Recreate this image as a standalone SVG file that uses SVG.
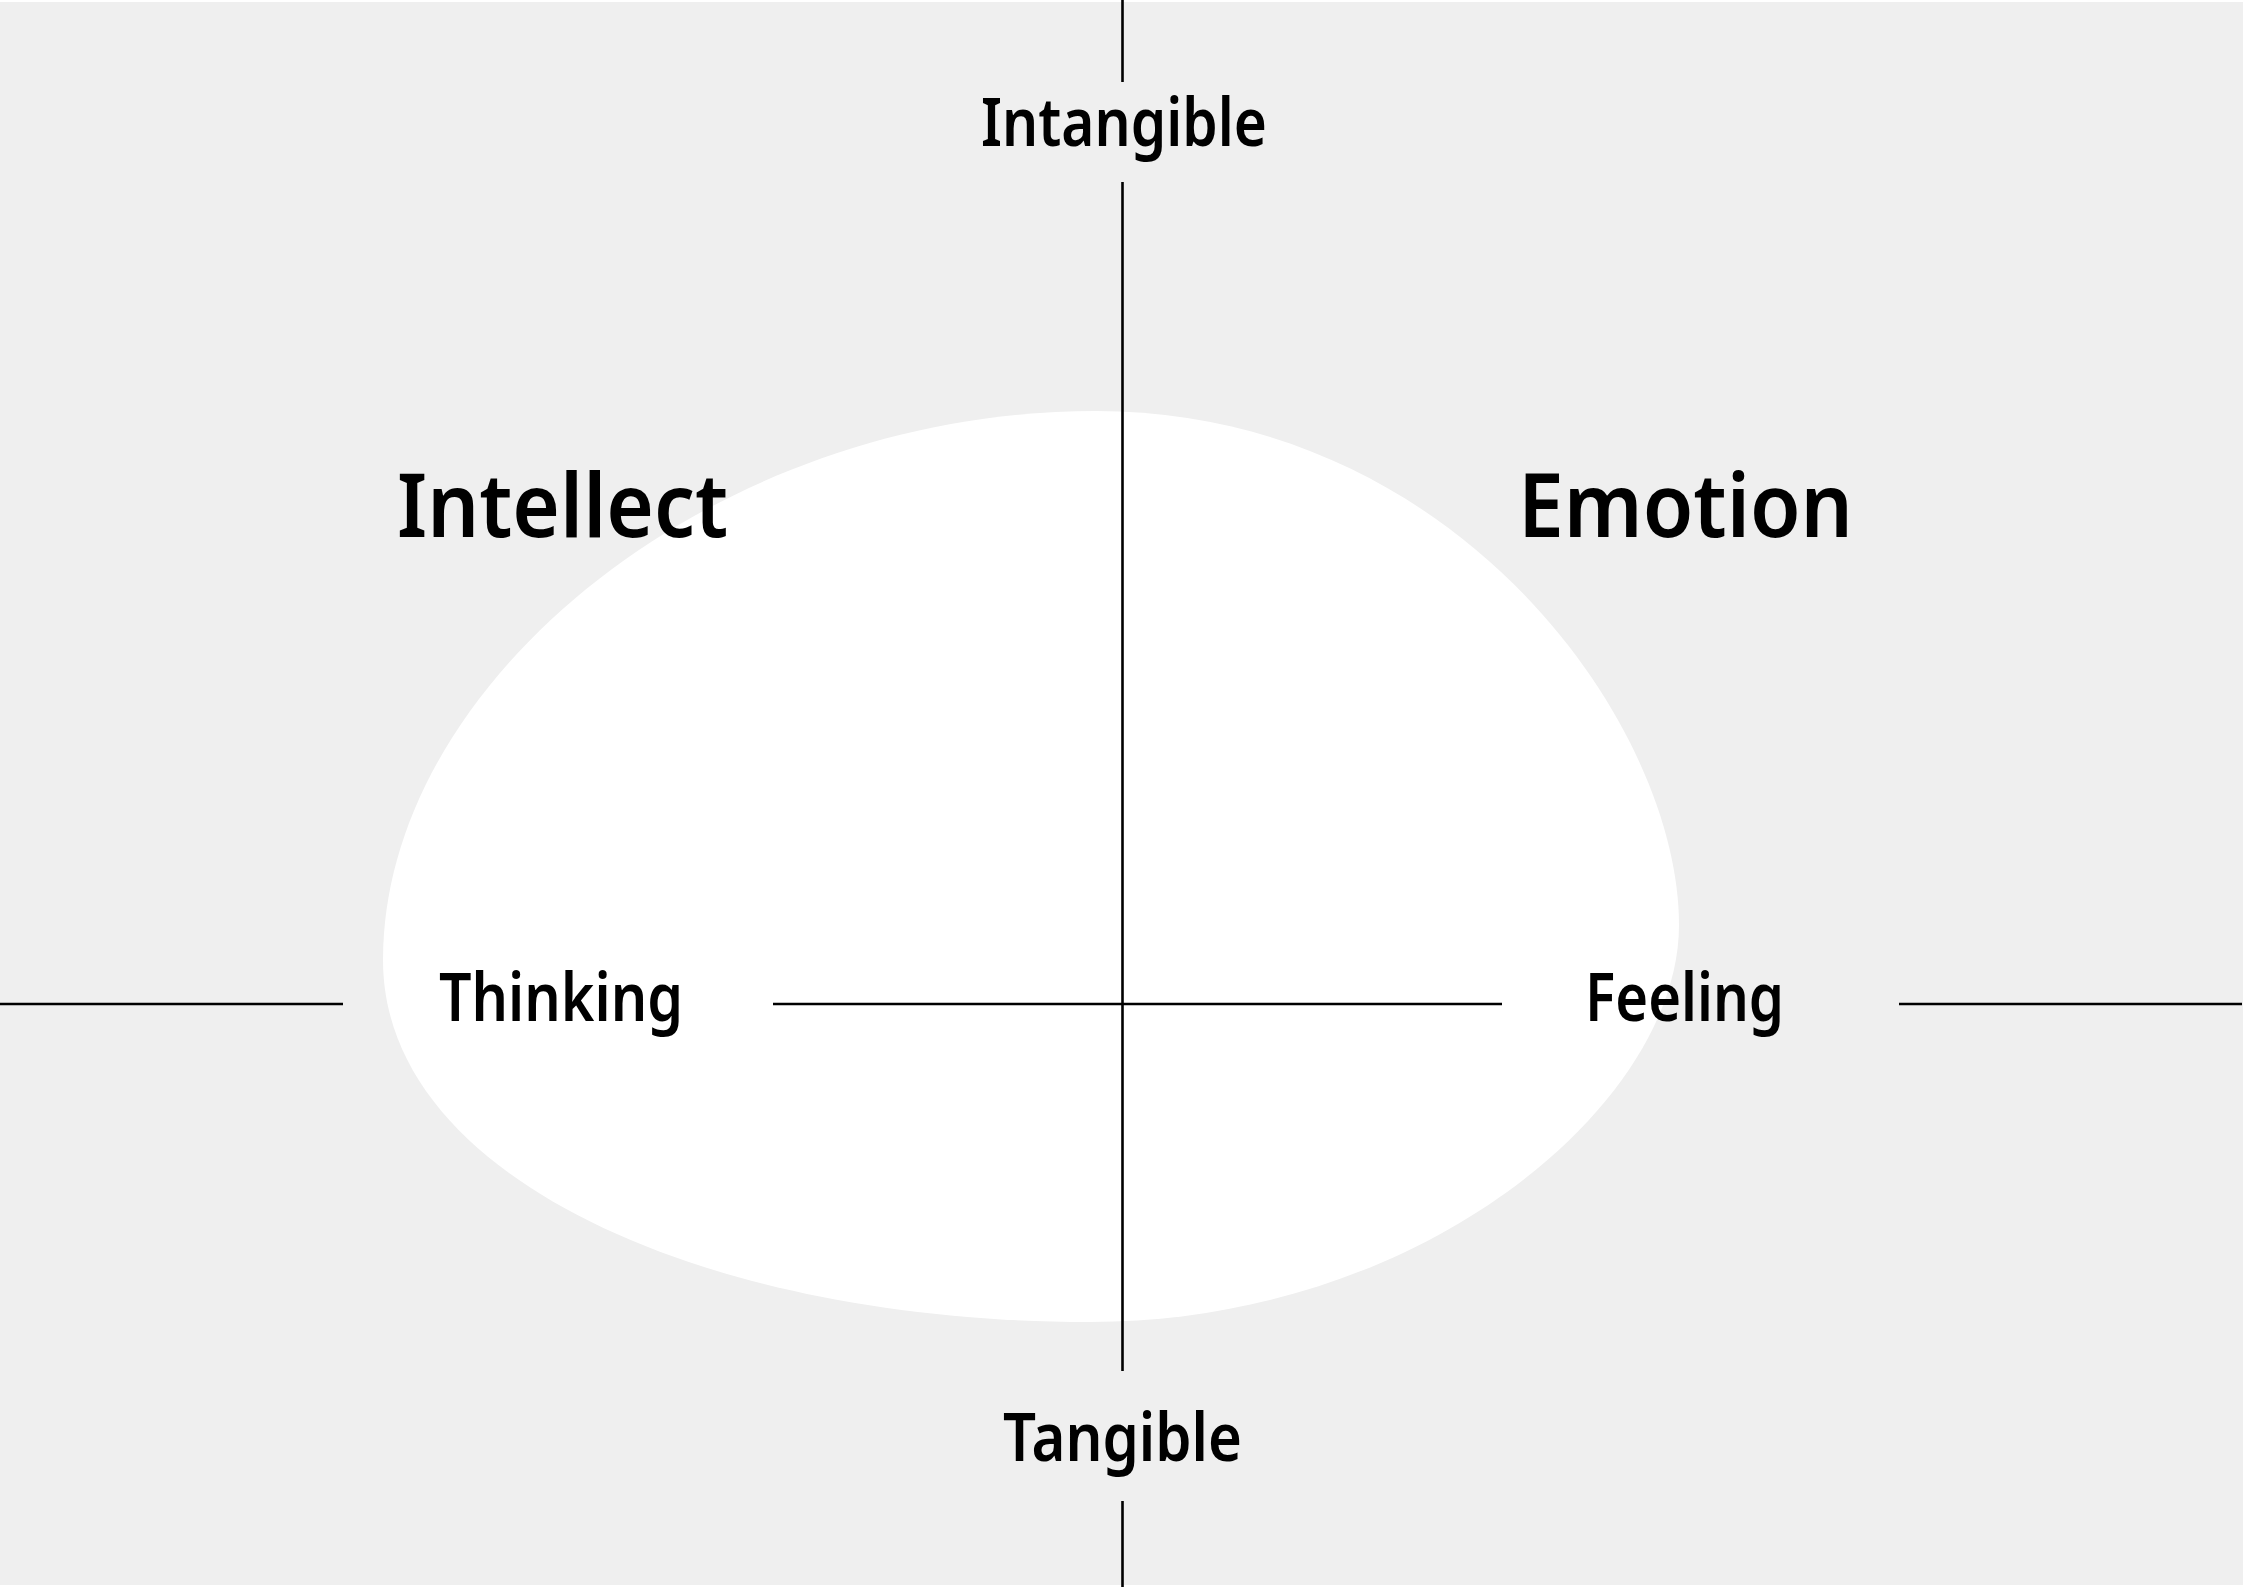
<svg xmlns="http://www.w3.org/2000/svg" width="2246" height="1587" viewBox="0 0 2246 1587">
<style>
.ax{stroke:#000;stroke-width:2.6;fill:none}
.lbl{font-family:"Noto Sans","Liberation Sans",sans-serif;font-weight:600;fill:#000;text-anchor:middle}
.s{font-size:66px}
.b{font-size:88px}
</style>
<rect x="0" y="0" width="2246" height="1587" fill="#ffffff"/>
<rect id="background" x="0" y="2" width="2243" height="1583" fill="#efefef"/>
<g id="blob">
<path fill="#ffffff" d="M1096,411 C1456,411 1679,725 1679,925 C1679,1105 1420,1322 1090,1322 C710,1322 383,1180 383,960 C383,680 716,411 1096,411 Z"/>
</g>
<g id="connectors">
<line class="ax" x1="1122.5" y1="0" x2="1122.5" y2="82"/>
<line class="ax" x1="1122.5" y1="182" x2="1122.5" y2="1371"/>
<line class="ax" x1="1122.5" y1="1501" x2="1122.5" y2="1587"/>
<line class="ax" x1="0" y1="1004" x2="343" y2="1004"/>
<line class="ax" x1="773" y1="1004" x2="1502" y2="1004"/>
<line class="ax" x1="1899" y1="1004" x2="2242" y2="1004"/>
</g>
<g id="intangible"><text class="lbl s" x="1124" y="146" textLength="286" lengthAdjust="spacingAndGlyphs">Intangible</text></g>
<g id="tangible"><text class="lbl s" x="1122.5" y="1461" textLength="239" lengthAdjust="spacingAndGlyphs">Tangible</text></g>
<g id="intellect"><text class="lbl b" x="562.5" y="537" textLength="331" lengthAdjust="spacingAndGlyphs">Intellect</text></g>
<g id="emotion"><text class="lbl b" x="1685.5" y="537" textLength="335" lengthAdjust="spacingAndGlyphs">Emotion</text></g>
<g id="thinking"><text class="lbl s" x="561" y="1021" textLength="244" lengthAdjust="spacingAndGlyphs">Thinking</text></g>
<g id="feeling"><text class="lbl s" x="1684.5" y="1021" textLength="199" lengthAdjust="spacingAndGlyphs">Feeling</text></g>
</svg>
